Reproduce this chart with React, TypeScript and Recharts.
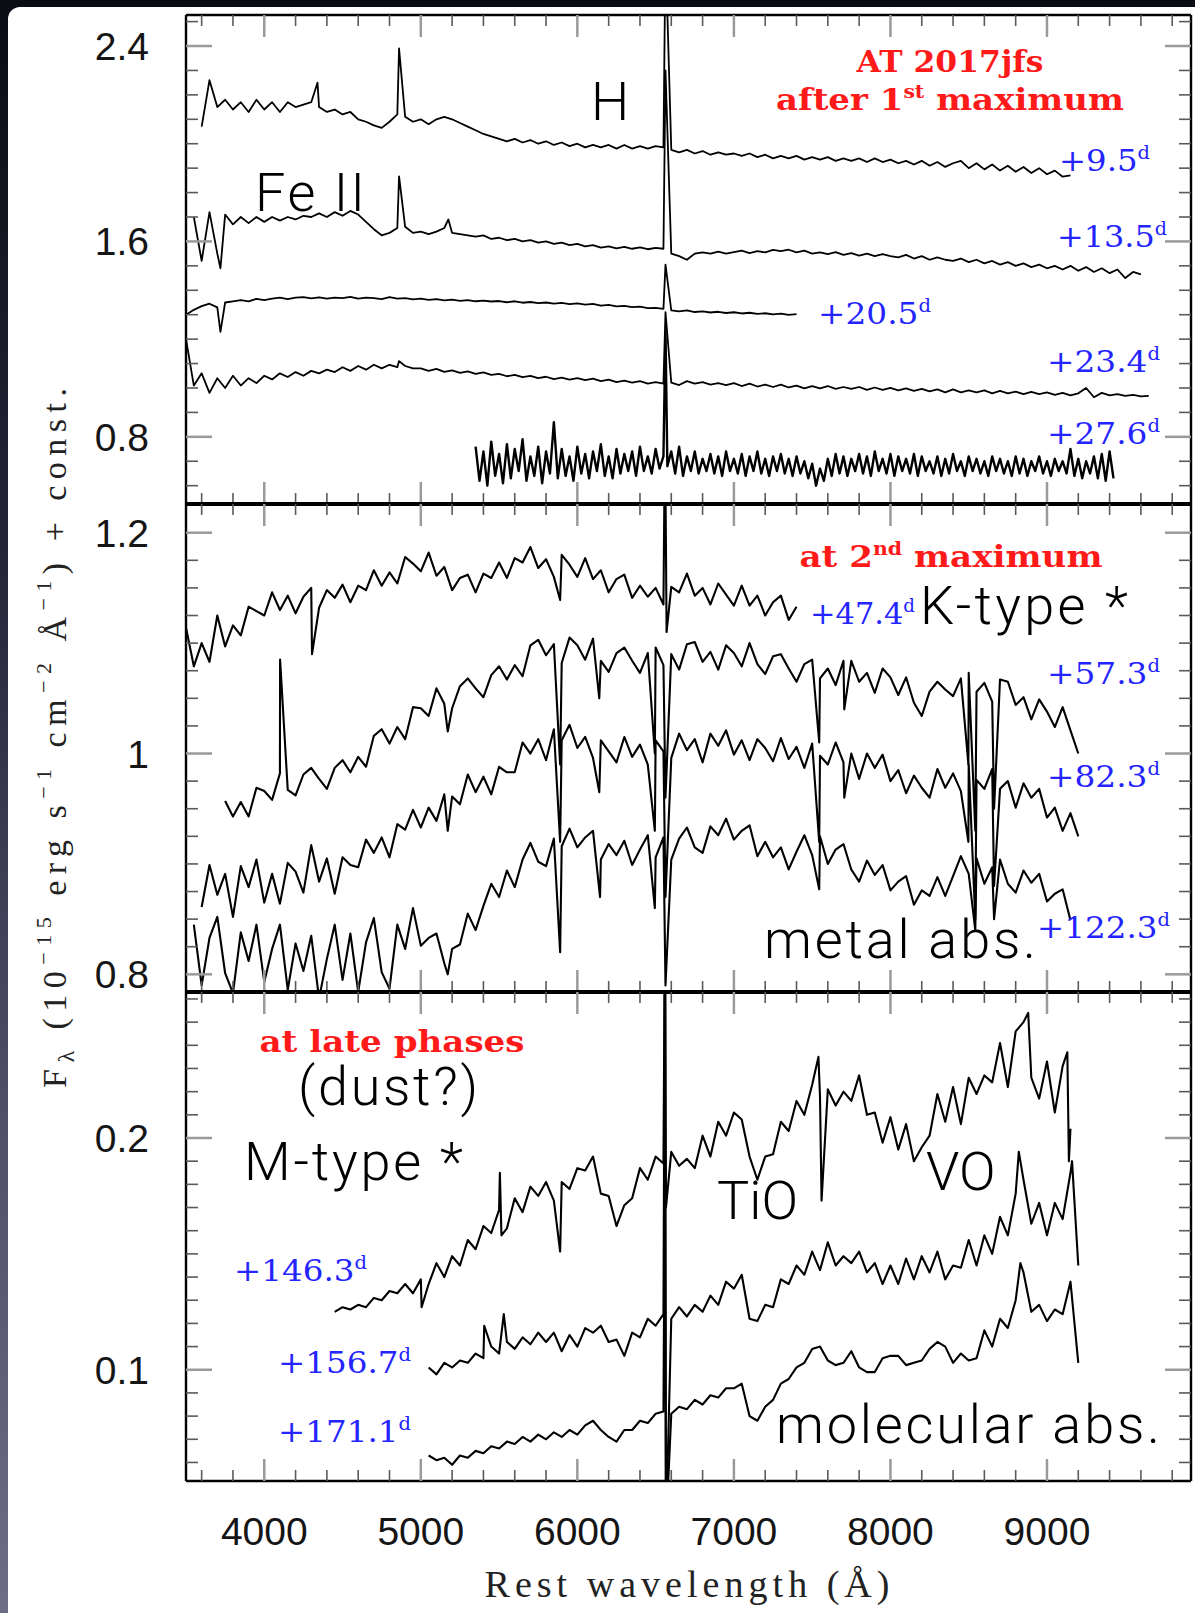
import React from 'react';
import { LineChart, Line, XAxis, YAxis } from 'recharts';

type Spectrum = { start: number; step: number; flux: number[]; lines: [number, number][]; width?: number };
type Part = [string, boolean?];

// wavelength axis (Angstrom)
const X_DOMAIN: [number, number] = [3500, 9920];
const X_TICKS = [3600, 3800, 4000, 4200, 4400, 4600, 4800, 5000, 5200, 5400, 5600, 5800, 6000, 6200, 6400, 6600,
  6800, 7000, 7200, 7400, 7600, 7800, 8000, 8200, 8400, 8600, 8800, 9000, 9200, 9400, 9600, 9800];
const X_LABELS = [4000, 5000, 6000, 7000, 8000, 9000];

const TOP_DOMAIN: [number, number] = [0.525, 2.527];
const TOP_TICKS = [0.6, 0.7, 0.8, 0.9, 1.0, 1.1, 1.2, 1.3, 1.4, 1.5, 1.6, 1.7, 1.8, 1.9, 2.0, 2.1, 2.2, 2.3, 2.4, 2.5];
const TOP_LABELS = [0.8, 1.6, 2.4];

const MID_DOMAIN: [number, number] = [0.784, 1.226];
const MID_TICKS = [0.8, 0.825, 0.85, 0.875, 0.9, 0.925, 0.95, 0.975, 1, 1.025, 1.05, 1.075, 1.1, 1.125, 1.15, 1.175, 1.2];
const MID_LABELS = [0.8, 1, 1.2];

const BOT_DOMAIN: [number, number] = [0.052, 0.263];
const BOT_TICKS = [0.06, 0.07, 0.08, 0.09, 0.1, 0.11, 0.12, 0.13, 0.14, 0.15, 0.16, 0.17, 0.18, 0.19, 0.2, 0.21, 0.22,
  0.23, 0.24, 0.25, 0.26];
const BOT_LABELS = [0.1, 0.2];

// ---- after 1st maximum ----
const SPEC_9_5: Spectrum = {
  start: 3600, step: 50,
  flux: [
    2.07, 2.26, 2.15, 2.18, 2.14, 2.17, 2.13, 2.18, 2.14, 2.17,
    2.13, 2.17, 2.15, 2.16, 2.17, 2.15, 2.13, 2.14, 2.12, 2.13,
    2.10, 2.09, 2.075, 2.065, 2.09, 2.12, 2.11, 2.09, 2.10, 2.08,
    2.10, 2.11, 2.10, 2.085, 2.07, 2.055, 2.04, 2.03, 2.02, 2.01,
    2.02, 2.005, 2.015, 2.0, 2.01, 1.995, 2.005, 1.99, 2.0, 1.985,
    1.995, 1.985, 1.995, 1.98, 1.995, 1.98, 1.99, 1.98, 1.99, 1.985,
    1.975, 1.965, 1.975, 1.96, 1.97, 1.955, 1.965, 1.955, 1.96, 1.95,
    1.96, 1.945, 1.955, 1.94, 1.95, 1.94, 1.95, 1.935, 1.945, 1.935,
    1.945, 1.93, 1.94, 1.93, 1.94, 1.925, 1.94, 1.925, 1.935, 1.92,
    1.93, 1.915, 1.93, 1.91, 1.925, 1.905, 1.92, 1.93, 1.9, 1.92,
    1.895, 1.915, 1.89, 1.91, 1.885, 1.905, 1.88, 1.9, 1.875, 1.89,
    1.865, 1.87,
  ],
  lines: [[4340, 2.25], [4861, 2.39], [6563, 2.8]],
};

const SPEC_13_5: Spectrum = {
  start: 3550, step: 50,
  flux: [
    1.70, 1.52, 1.72, 1.55, 1.71, 1.67, 1.70, 1.675, 1.70, 1.68,
    1.70, 1.685, 1.70, 1.69, 1.705, 1.70, 1.715, 1.70, 1.72, 1.705,
    1.725, 1.71, 1.68, 1.65, 1.625, 1.635, 1.655, 1.66, 1.635, 1.64,
    1.63, 1.64, 1.655, 1.635, 1.63, 1.625, 1.62, 1.625, 1.61, 1.615,
    1.605, 1.61, 1.60, 1.605, 1.595, 1.60, 1.59, 1.595, 1.585, 1.59,
    1.58, 1.585, 1.575, 1.58, 1.572, 1.578, 1.57, 1.576, 1.568, 1.574,
    1.57, 1.55, 1.54, 1.525, 1.55, 1.555, 1.55, 1.558, 1.55, 1.556,
    1.562, 1.552, 1.56, 1.555, 1.565, 1.56, 1.566, 1.555, 1.562, 1.55,
    1.555, 1.548, 1.556, 1.545, 1.552, 1.542, 1.55, 1.54, 1.548, 1.54,
    1.535, 1.545, 1.53, 1.54, 1.525, 1.535, 1.525, 1.52, 1.53, 1.515,
    1.525, 1.51, 1.52, 1.505, 1.515, 1.5, 1.51, 1.495, 1.505, 1.49,
    1.50, 1.485, 1.50, 1.48, 1.495, 1.475, 1.49, 1.47, 1.485, 1.45,
    1.475, 1.465,
  ],
  lines: [[3720, 1.49], [4861, 1.866], [5176, 1.69], [6563, 2.3]],
};

const SPEC_20_5: Spectrum = {
  start: 3500, step: 50,
  flux: [
    1.30, 1.32, 1.335, 1.345, 1.33, 1.35, 1.355, 1.36, 1.355, 1.365,
    1.36, 1.366, 1.37, 1.364, 1.37, 1.372, 1.367, 1.371, 1.366, 1.37,
    1.368, 1.373, 1.366, 1.37, 1.368, 1.364, 1.372, 1.366, 1.368, 1.363,
    1.366, 1.361, 1.364, 1.359, 1.362, 1.357, 1.36, 1.355, 1.358, 1.354,
    1.356, 1.351, 1.355, 1.349, 1.352, 1.347, 1.35, 1.345, 1.348, 1.343,
    1.346, 1.341, 1.344, 1.337, 1.34, 1.334, 1.336, 1.331, 1.333, 1.327,
    1.328, 1.324, 1.318, 1.314, 1.318, 1.311, 1.314, 1.309, 1.312, 1.307,
    1.31, 1.305, 1.308, 1.303, 1.306, 1.301, 1.304, 1.299, 1.302,
  ],
  lines: [[3720, 1.23], [6563, 1.505]],
};

const SPEC_23_4: Spectrum = {
  start: 3500, step: 50,
  flux: [
    1.20, 1.01, 1.06, 0.98, 1.04, 1.00, 1.05, 1.01, 1.04, 1.02,
    1.05, 1.035, 1.06, 1.045, 1.065, 1.05, 1.07, 1.06, 1.075, 1.065,
    1.085, 1.07, 1.09, 1.075, 1.095, 1.08, 1.095, 1.085, 1.09, 1.08,
    1.08, 1.07, 1.078, 1.066, 1.072, 1.062, 1.068, 1.058, 1.064, 1.054,
    1.058, 1.048, 1.054, 1.044, 1.05, 1.04, 1.046, 1.036, 1.042, 1.034,
    1.04, 1.032, 1.038, 1.028, 1.034, 1.024, 1.03, 1.022, 1.028, 1.018,
    1.024, 1.018, 1.022, 1.012, 1.028, 1.018, 1.024, 1.014, 1.02, 1.012,
    1.02, 1.008, 1.018, 1.006, 1.014, 1.004, 1.014, 1.002, 1.01, 0.998,
    1.008, 0.998, 1.008, 0.996, 1.004, 0.996, 1.004, 0.992, 1.002, 0.992,
    1.0, 0.99, 0.998, 0.988, 0.996, 0.986, 0.994, 0.982, 0.994, 0.982,
    0.99, 0.982, 0.99, 0.978, 0.988, 0.978, 0.985, 0.975, 0.984, 0.975,
    0.982, 0.972, 0.98, 0.97, 0.978, 1.0, 0.962, 0.98, 0.97, 0.975,
    0.968, 0.972, 0.966, 0.968,
  ],
  lines: [[4861, 1.11], [6563, 1.31]],
};

const SPEC_27_6: Spectrum = {
  start: 5350, step: 25, width: 2.4,
  flux: [
    0.76, 0.62, 0.74, 0.60, 0.78, 0.64, 0.73, 0.61, 0.77, 0.63, 0.75, 0.66, 0.79, 0.62, 0.72, 0.64, 0.76, 0.61, 0.74, 0.65,
    0.86, 0.63, 0.75, 0.64, 0.72, 0.62, 0.76, 0.65, 0.73, 0.63, 0.74, 0.66, 0.77, 0.64, 0.72, 0.63, 0.75, 0.65, 0.73, 0.66,
    0.74, 0.64, 0.76, 0.66, 0.72, 0.65, 0.75, 0.67, 0.72, 0.68, 0.74, 0.65, 0.76, 0.64, 0.72, 0.66, 0.74, 0.65, 0.71, 0.66,
    0.73, 0.65, 0.72, 0.64, 0.74, 0.66, 0.71, 0.65, 0.73, 0.64, 0.72, 0.66, 0.74, 0.65, 0.71, 0.64, 0.72, 0.66, 0.73, 0.65,
    0.71, 0.64, 0.72, 0.65, 0.70, 0.63, 0.69, 0.60, 0.67, 0.62, 0.71, 0.64, 0.73, 0.65, 0.72, 0.64, 0.71, 0.66, 0.73, 0.65,
    0.72, 0.64, 0.74, 0.66, 0.71, 0.65, 0.73, 0.64, 0.72, 0.66, 0.71, 0.65, 0.73, 0.64, 0.72, 0.66, 0.70, 0.65, 0.72, 0.64,
    0.71, 0.65, 0.73, 0.66, 0.70, 0.64, 0.72, 0.66, 0.71, 0.65, 0.70, 0.64, 0.72, 0.66, 0.71, 0.65, 0.70, 0.64, 0.72, 0.65,
    0.71, 0.64, 0.70, 0.66, 0.72, 0.65, 0.70, 0.64, 0.71, 0.66, 0.70, 0.65, 0.75, 0.64, 0.71, 0.63, 0.70, 0.65, 0.72, 0.63,
    0.73, 0.62, 0.74, 0.63,
  ],
  lines: [[6563, 1.23]],
};

// ---- at 2nd maximum ----
const SPEC_47_4: Spectrum = {
  start: 3500, step: 50,
  flux: [
    1.114, 1.079, 1.10, 1.083, 1.125, 1.097, 1.116, 1.107, 1.133, 1.129,
    1.125, 1.146, 1.13, 1.143, 1.127, 1.142, 1.15, 1.132, 1.148, 1.141,
    1.153, 1.137, 1.152, 1.148, 1.166, 1.152, 1.164, 1.154, 1.178, 1.172,
    1.165, 1.182, 1.161, 1.169, 1.148, 1.159, 1.162, 1.146, 1.163, 1.159,
    1.173, 1.159, 1.177, 1.173, 1.187, 1.168, 1.176, 1.16, 1.18, 1.171,
    1.16, 1.177, 1.158, 1.166, 1.146, 1.158, 1.162, 1.141, 1.152, 1.142,
    1.15, 1.135, 1.151, 1.146, 1.163, 1.143, 1.15, 1.135, 1.154, 1.144,
    1.134, 1.152, 1.134, 1.143, 1.125, 1.137, 1.143, 1.121, 1.133,
  ],
  lines: [[4305, 1.09], [5890, 1.139], [6560, 1.3], [6570, 1.11]],
};

const SPEC_57_3: Spectrum = {
  start: 3750, step: 50,
  flux: [
    0.957, 0.943, 0.956, 0.943, 0.969, 0.966, 0.958, 0.982, 0.967, 0.962,
    0.981, 0.987, 0.977, 0.968, 0.987, 0.994, 0.983, 0.997, 0.988, 1.016,
    1.022, 1.009, 1.024, 1.013, 1.042, 1.041, 1.034, 1.059, 1.045, 1.041,
    1.061, 1.068, 1.059, 1.051, 1.071, 1.079, 1.067, 1.08, 1.07, 1.098,
    1.103, 1.089, 1.099, 1.082, 1.105, 1.098, 1.085, 1.104, 1.084, 1.074,
    1.091, 1.096, 1.084, 1.073, 1.091, 1.096, 1.08, 1.09, 1.076, 1.099,
    1.101, 1.083, 1.092, 1.076, 1.098, 1.091, 1.079, 1.10, 1.081, 1.072,
    1.088, 1.09, 1.077, 1.065, 1.081, 1.085, 1.068, 1.077, 1.062, 1.084,
    1.084, 1.065, 1.073, 1.055, 1.077, 1.069, 1.053, 1.069, 1.046, 1.034,
    1.056, 1.065, 1.058, 1.052, 1.068, 1.073, 1.056, 1.064, 1.047, 1.067,
    1.065, 1.044, 1.051, 1.031, 1.049, 1.038, 1.024, 1.042, 1.021, 1.0,
  ],
  lines: [[4101, 1.085], [5172, 1.02], [5890, 0.99], [6140, 1.05], [6495, 1.0], [6563, 0.96], [7545, 1.01],
    [7705, 1.04], [8498, 0.99], [8542, 0.93], [8662, 0.95]],
};

const SPEC_82_3: Spectrum = {
  start: 3600, step: 50,
  flux: [
    0.861, 0.899, 0.872, 0.891, 0.852, 0.898, 0.879, 0.904, 0.865, 0.891,
    0.864, 0.901, 0.893, 0.874, 0.917, 0.884, 0.905, 0.873, 0.906, 0.899,
    0.897, 0.922, 0.91, 0.924, 0.906, 0.936, 0.931, 0.949, 0.933, 0.951,
    0.939, 0.963, 0.961, 0.954, 0.981, 0.965, 0.979, 0.963, 0.988, 0.983,
    0.983, 1.01, 1.0, 1.013, 0.994, 1.022, 1.012, 1.026, 1.005, 1.015,
    0.996, 1.012, 1.002, 0.992, 1.015, 0.997, 1.008, 0.99, 1.012, 1.002,
    0.996, 1.018, 1.003, 1.013, 0.992, 1.018, 1.007, 1.021, 0.999, 1.012,
    0.994, 1.013, 1.005, 0.993, 1.014, 0.995, 1.006, 0.987, 1.009, 0.998,
    0.99, 1.01, 0.992, 1.0, 0.977, 1.0, 0.987, 0.999, 0.975, 0.985,
    0.964, 0.98, 0.969, 0.96, 0.986, 0.969, 0.982, 0.966, 0.99, 0.976,
    0.968, 0.986, 0.968, 0.975, 0.951, 0.973, 0.96, 0.968, 0.942, 0.951,
    0.93, 0.946, 0.925,
  ],
  lines: [[5172, 0.93], [5890, 0.92], [6140, 0.965], [6495, 0.93], [6563, 0.87], [7545, 0.92], [7705, 0.96],
    [8498, 0.92], [8542, 0.85], [8662, 0.88]],
};

const SPEC_122_3: Spectrum = {
  start: 3550, step: 50,
  flux: [
    0.845, 0.79, 0.833, 0.852, 0.801, 0.783, 0.838, 0.812, 0.845, 0.793,
    0.823, 0.845, 0.786, 0.828, 0.803, 0.835, 0.778, 0.814, 0.845, 0.795,
    0.837, 0.784, 0.829, 0.851, 0.802, 0.787, 0.845, 0.823, 0.86, 0.826,
    0.833, 0.837, 0.81, 0.823, 0.827, 0.855, 0.84, 0.862, 0.882, 0.87,
    0.894, 0.879, 0.904, 0.919, 0.902, 0.898, 0.923, 0.916, 0.932, 0.915,
    0.924, 0.93, 0.904, 0.918, 0.908, 0.921, 0.899, 0.913, 0.926, 0.906,
    0.924, 0.904, 0.923, 0.933, 0.915, 0.91, 0.934, 0.926, 0.941, 0.922,
    0.93, 0.935, 0.907, 0.92, 0.906, 0.915, 0.895, 0.911, 0.926, 0.908,
    0.925, 0.90, 0.913, 0.918, 0.895, 0.884, 0.903, 0.89, 0.899, 0.876,
    0.884, 0.889, 0.863, 0.876, 0.871, 0.888, 0.871, 0.889, 0.907, 0.891,
    0.905, 0.882, 0.897, 0.904, 0.882, 0.874, 0.894, 0.883, 0.891, 0.866,
    0.873, 0.877, 0.849,
  ],
  lines: [[5172, 0.80], [5890, 0.82], [6145, 0.87], [6495, 0.86], [6563, 0.79], [7545, 0.877], [8542, 0.84], [8662, 0.85]],
};

// ---- at late phases ----
const SPEC_146_3: Spectrum = {
  start: 4450, step: 50,
  flux: [
    0.125, 0.127, 0.126, 0.128, 0.127, 0.131, 0.13, 0.134, 0.133, 0.137,
    0.133, 0.139, 0.137, 0.146, 0.14, 0.149, 0.145, 0.156, 0.152, 0.162,
    0.159, 0.169, 0.161, 0.174, 0.168, 0.179, 0.175, 0.181, 0.173, 0.181,
    0.178, 0.187, 0.186, 0.192, 0.176, 0.175, 0.162, 0.171, 0.174, 0.187,
    0.182, 0.192, 0.189, 0.194, 0.188, 0.191, 0.187, 0.201, 0.192, 0.207,
    0.201, 0.211, 0.208, 0.192, 0.182, 0.192, 0.193, 0.207, 0.203, 0.216,
    0.21, 0.223, 0.218, 0.221, 0.214, 0.22, 0.216, 0.227, 0.21, 0.211,
    0.198, 0.209, 0.195, 0.206, 0.19, 0.196, 0.201, 0.219, 0.207, 0.222,
    0.206, 0.226, 0.219, 0.227, 0.224, 0.241, 0.222, 0.246, 0.25, 0.226,
    0.217, 0.233, 0.211, 0.231, 0.204,
  ],
  lines: [[5005, 0.127], [5505, 0.185], [5515, 0.158], [5890, 0.151], [6560, 0.3], [6566, 0.17], [7540, 0.235],
    [7560, 0.173], [8880, 0.254], [9130, 0.237], [9140, 0.19]],
};

const SPEC_156_7: Spectrum = {
  start: 5050, step: 50,
  flux: [
    0.101, 0.098, 0.103, 0.101, 0.104, 0.103, 0.107, 0.105, 0.11, 0.107,
    0.112, 0.109, 0.114, 0.111, 0.116, 0.112, 0.116, 0.108, 0.115, 0.11,
    0.118, 0.116, 0.119, 0.112, 0.113, 0.106, 0.116, 0.114, 0.122, 0.119,
    0.124, 0.122, 0.127, 0.123, 0.128, 0.125, 0.132, 0.128, 0.138, 0.135,
    0.141, 0.122, 0.121, 0.128, 0.127, 0.139, 0.137, 0.145, 0.141, 0.151,
    0.143, 0.155, 0.145, 0.149, 0.146, 0.151, 0.142, 0.146, 0.137, 0.145,
    0.137, 0.148, 0.139, 0.149, 0.142, 0.151, 0.139, 0.145, 0.144, 0.156,
    0.145, 0.158, 0.15, 0.166, 0.158, 0.176, 0.182, 0.163, 0.172, 0.158,
    0.172, 0.165, 0.185, 0.145,
  ],
  lines: [[5405, 0.119], [5530, 0.124], [6560, 0.3], [6566, 0.03], [8820, 0.194], [9160, 0.19]],
};

const SPEC_171_1: Spectrum = {
  start: 5050, step: 50,
  flux: [
    0.063, 0.061, 0.062, 0.059, 0.063, 0.062, 0.065, 0.064, 0.067, 0.066,
    0.069, 0.068, 0.071, 0.069, 0.072, 0.07, 0.073, 0.071, 0.074, 0.072,
    0.076, 0.078, 0.074, 0.071, 0.069, 0.074, 0.074, 0.078, 0.077, 0.081,
    0.082, 0.081, 0.084, 0.083, 0.087, 0.085, 0.089, 0.088, 0.092, 0.092,
    0.094, 0.08, 0.078, 0.084, 0.087, 0.094, 0.096, 0.101, 0.103, 0.109,
    0.11, 0.104, 0.102, 0.103, 0.108, 0.101, 0.099, 0.099, 0.105, 0.106,
    0.106, 0.102, 0.103, 0.104, 0.109, 0.112, 0.11, 0.103, 0.107, 0.104,
    0.105, 0.117, 0.11, 0.122, 0.118, 0.13, 0.142, 0.125, 0.128, 0.121,
    0.126, 0.124, 0.138, 0.103,
  ],
  lines: [[6560, 0.2], [6566, 0.03], [8830, 0.146]],
};

const TOP_SPECTRA = [SPEC_9_5, SPEC_13_5, SPEC_20_5, SPEC_23_4, SPEC_27_6];
const MID_SPECTRA = [SPEC_47_4, SPEC_57_3, SPEC_82_3, SPEC_122_3];
const BOT_SPECTRA = [SPEC_146_3, SPEC_156_7, SPEC_171_1];

const RED_NOTES: { x: number; y: number; w: number; parts: Part[] }[] = [
  { x: 950, y: 72, w: 187, parts: [['AT 2017jfs']] },
  { x: 950, y: 110, w: 348, parts: [['after 1'], ['st', true], [' maximum']] },
  { x: 951, y: 567, w: 303, parts: [['at 2'], ['nd', true], [' maximum']] },
  { x: 392, y: 1052, w: 265, parts: [['at late phases']] },
];

const BLUE_NOTES: { x: number; y: number; w: number; label: string }[] = [
  { x: 1059, y: 171, w: 91, label: '+9.5' },
  { x: 1057, y: 247, w: 110, label: '+13.5' },
  { x: 818, y: 324, w: 113, label: '+20.5' },
  { x: 1047, y: 372, w: 113, label: '+23.4' },
  { x: 1047, y: 444, w: 113, label: '+27.6' },
  { x: 810, y: 624, w: 105, label: '+47.4' },
  { x: 1047, y: 684, w: 113, label: '+57.3' },
  { x: 1047, y: 787, w: 113, label: '+82.3' },
  { x: 1037, y: 938, w: 133, label: '+122.3' },
  { x: 234, y: 1281, w: 133, label: '+146.3' },
  { x: 278, y: 1373, w: 133, label: '+156.7' },
  { x: 278, y: 1442, w: 133, label: '+171.1' },
];

const BLACK_NOTES: { x: number; y: number; w?: number; text: string }[] = [
  { x: 591, y: 120, text: 'H' },
  { x: 255, y: 211, w: 110, text: 'Fe II' },
  { x: 920, y: 624, w: 208, text: 'K-type *' },
  { x: 764, y: 958, w: 272, text: 'metal abs.' },
  { x: 298, y: 1105, w: 180, text: '(dust?)' },
  { x: 244, y: 1180, w: 219, text: 'M-type *' },
  { x: 717, y: 1219, text: 'TiO' },
  { x: 926, y: 1190, text: 'VO' },
  { x: 776, y: 1443, w: 384, text: 'molecular abs.' },
];

const SANS = "'Liberation Sans', Arial, sans-serif";
const SERIF = "'DejaVu Serif', serif";
const TIMES = "'Liberation Serif', 'Times New Roman', serif";
const LIGHT = "Roboto, Lato, 'Liberation Sans', sans-serif";
const TICK_MINOR = '#5a5a5a';
const TICK_MAJOR = '#9a9a9a';

const toPoints = (s: Spectrum) =>
  [...s.flux.map((f, i) => ({ w: s.start + i * s.step, f })), ...s.lines.map(([w, f]) => ({ w, f }))]
    .sort((a, b) => a.w - b.w);

const isIn = (list: number[], v: number) => list.some((l) => Math.abs(l - v) < 1e-6);

function xTick(side: 'top' | 'bottom', withLabels: boolean) {
  return (props: any) => {
    const { x, y, payload } = props;
    const major = isIn(X_LABELS, payload.value);
    const len = major ? 22 : 11;
    const dir = side === 'bottom' ? -1 : 1;
    return (
      <g>
        <line x1={x} x2={x} y1={y} y2={y + dir * len} stroke={major ? TICK_MAJOR : TICK_MINOR} strokeWidth={major ? 2.5 : 1.6} />
        {withLabels && major && (
          <text x={x} y={y + 64} textAnchor="middle" fontFamily={SANS} fontSize={39} fill="#151515">
            {payload.value}
          </text>
        )}
      </g>
    );
  };
}

function yTick(side: 'left' | 'right', majors: number[]) {
  return (props: any) => {
    const { x, y, payload } = props;
    const major = isIn(majors, payload.value);
    const len = major ? 26 : 12;
    const dir = side === 'left' ? 1 : -1;
    return (
      <g>
        <line x1={x} x2={x + dir * len} y1={y} y2={y} stroke={major ? TICK_MAJOR : TICK_MINOR} strokeWidth={major ? 2.5 : 1.6} />
        {side === 'left' && major && (
          <text x={x - 37} y={y + 14} textAnchor="end" fontFamily={SANS} fontSize={39} fill="#151515">
            {String(payload.value)}
          </text>
        )}
      </g>
    );
  };
}

type PanelProps = {
  top: number; height: number; mTop: number; mBottom: number;
  domain: [number, number]; ticks: number[]; labels: number[];
  spectra: Spectrum[]; xLabels: boolean; bottomWidth: number; topWidth: number; lineWidth: number;
};

function Panel({ top, height, mTop, mBottom, domain, ticks, labels, spectra, xLabels, bottomWidth, topWidth, lineWidth }: PanelProps) {
  return (
    <div style={{ position: 'absolute', left: 0, top }}>
      <LineChart width={1195} height={height} margin={{ top: mTop, right: 3, bottom: mBottom, left: 86 }}>
        <XAxis xAxisId="b" type="number" dataKey="w" domain={X_DOMAIN} allowDataOverflow ticks={X_TICKS} interval={0}
          height={1} tickSize={0} tickMargin={0} tickLine={false}
          axisLine={{ stroke: '#000', strokeWidth: bottomWidth }} tick={xTick('bottom', xLabels)} />
        <XAxis xAxisId="t" orientation="top" type="number" dataKey="w" domain={X_DOMAIN} allowDataOverflow ticks={X_TICKS}
          interval={0} height={1} tickSize={0} tickMargin={0} tickLine={false}
          axisLine={{ stroke: '#000', strokeWidth: topWidth }} tick={xTick('top', false)} />
        <YAxis yAxisId="l" type="number" domain={domain} allowDataOverflow ticks={ticks} interval={0} width={100}
          tickSize={0} tickMargin={0} tickLine={false} axisLine={{ stroke: '#000', strokeWidth: 2.4 }}
          tick={yTick('left', labels)} />
        <YAxis yAxisId="r" orientation="right" type="number" domain={domain} allowDataOverflow ticks={ticks} interval={0}
          width={1} tickSize={0} tickMargin={0} tickLine={false} axisLine={{ stroke: '#000', strokeWidth: 2.4 }}
          tick={yTick('right', labels)} />
        {spectra.map((s, i) => (
          <Line key={i} xAxisId="b" yAxisId="l" data={toPoints(s)} dataKey="f" type="linear" stroke="#000"
            strokeWidth={s.width ?? lineWidth} strokeLinejoin="round" dot={false} activeDot={false} isAnimationActive={false} />
        ))}
        <Line xAxisId="t" yAxisId="r" data={toPoints(spectra[0])} dataKey="f" type="linear" stroke="none"
          dot={false} activeDot={false} isAnimationActive={false} />
      </LineChart>
    </div>
  );
}

function RichText({ x, y, anchor, size, color, family, weight, width, parts }: {
  x: number; y: number; anchor: 'start' | 'middle'; size: number; color: string; family: string;
  weight?: number | string; width: number; parts: Part[];
}) {
  const lift = Math.round(size * 0.4);
  let raised = false;
  return (
    <text x={x} y={y} textAnchor={anchor} fontSize={size} fill={color} fontFamily={family} fontWeight={weight}
      textLength={width} lengthAdjust="spacingAndGlyphs">
      {parts.map(([t, sup], i) => {
        let dy = 0;
        if (sup && !raised) { dy = -lift; raised = true; }
        else if (!sup && raised) { dy = lift; raised = false; }
        return (
          <tspan key={i} dy={dy} fontSize={sup ? size * 0.6 : size}>{t}</tspan>
        );
      })}
    </text>
  );
}

export default function App() {
  return (
    <div style={{
      position: 'absolute', left: 0, top: 0, width: 1195, height: 1613, overflow: 'hidden',
      background: 'linear-gradient(180deg, #0b0b14 0%, #262639 35%, #50506a 70%, #6d6d86 100%)',
    }}>
      <div style={{ position: 'absolute', left: 8, top: 7, right: 0, bottom: 0, background: '#fff', borderTopLeftRadius: 12 }} />
      <Panel top={0} height={506} mTop={14} mBottom={1} domain={TOP_DOMAIN} ticks={TOP_TICKS} labels={TOP_LABELS}
        spectra={TOP_SPECTRA} xLabels={false} bottomWidth={4} topWidth={2.4} lineWidth={1.8} />
      <Panel top={490} height={516} mTop={13} mBottom={13} domain={MID_DOMAIN} ticks={MID_TICKS} labels={MID_LABELS}
        spectra={MID_SPECTRA} xLabels={false} bottomWidth={4} topWidth={4} lineWidth={2.1} />
      <Panel top={978} height={635} mTop={13} mBottom={131} domain={BOT_DOMAIN} ticks={BOT_TICKS} labels={BOT_LABELS}
        spectra={BOT_SPECTRA} xLabels={true} bottomWidth={2.4} topWidth={4} lineWidth={2.1} />
      <svg width={1195} height={1613} style={{ position: 'absolute', left: 0, top: 0, pointerEvents: 'none' }}>
        {RED_NOTES.map((n, i) => (
          <RichText key={'r' + i} x={n.x} y={n.y} anchor="middle" size={30} color="#ff1a1a" family={SERIF} weight="bold"
            width={n.w} parts={n.parts} />
        ))}
        {BLUE_NOTES.map((n, i) => (
          <RichText key={'b' + i} x={n.x} y={n.y} anchor="start" size={30} color="#2424ff" family={SERIF}
            width={n.w} parts={[[n.label], ['d', true]]} />
        ))}
        {BLACK_NOTES.map((n, i) => (
          <text key={'k' + i} x={n.x} y={n.y} fontFamily={LIGHT} fontWeight={300} fontSize={54} fill="#000"
            textLength={n.w} lengthAdjust={n.w ? 'spacing' : undefined}>{n.text}</text>
        ))}
        <text transform="rotate(-90)" x={-738} y={66} textAnchor="middle" fontFamily={TIMES} fontSize={34} fill="#222"
          textLength={700} lengthAdjust="spacing">
          F<tspan fontSize={24} dy={8}>λ</tspan>
          <tspan dy={-8}> (10</tspan><tspan fontSize={22} dy={-15}>−15</tspan>
          <tspan dy={15}> erg s</tspan><tspan fontSize={22} dy={-15}>−1</tspan>
          <tspan dy={15}> cm</tspan><tspan fontSize={22} dy={-15}>−2</tspan>
          <tspan dy={15}> Å</tspan><tspan fontSize={22} dy={-15}>−1</tspan>
          <tspan dy={15}>) + const.</tspan>
        </text>
        <text x={687} y={1597} textAnchor="middle" fontFamily={TIMES} fontSize={38} fill="#222" textLength={405}
          lengthAdjust="spacing">Rest wavelength (Å)</text>
      </svg>
    </div>
  );
}
